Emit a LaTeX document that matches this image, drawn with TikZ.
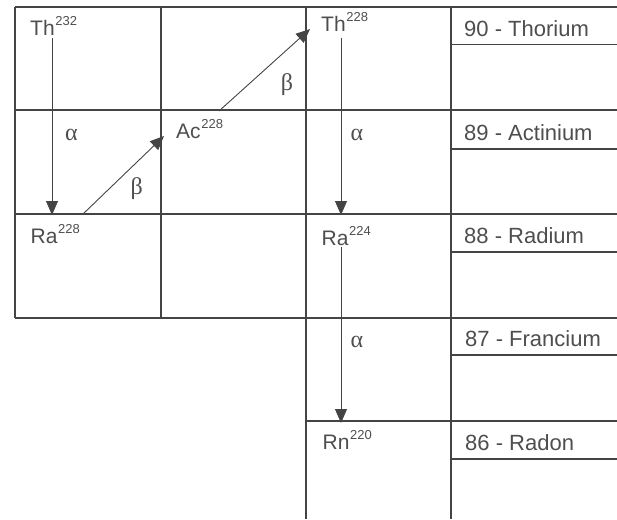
\documentclass[tikz,border=0pt]{standalone}
\usepackage{fontspec}
\setmainfont{Liberation Sans}
\newfontfamily\grkfont{Liberation Serif}
\usetikzlibrary{arrows.meta,calc}
\definecolor{lc}{RGB}{68,68,68}
\definecolor{tc}{RGB}{78,78,78}
\newcommand{\iso}[2]{#1\kern0.6pt\raisebox{9.5pt}{\fontsize{13}{14}\selectfont #2}}
\tikzset{
  grid/.style={draw=lc, line width=1.3pt},
  sub/.style={draw=lc, line width=1.1pt},
  isolbl/.style={anchor=base west, inner sep=0pt, text=tc, font=\fontsize{21}{24}\selectfont},
  ellbl/.style={anchor=base west, inner sep=0pt, text=tc, font=\fontsize{22}{24}\selectfont},
  grk/.style={anchor=base, inner sep=0pt, text=tc, font=\grkfont\fontsize{24}{26}\selectfont},
  arr/.style={draw=lc, line width=0.9pt, -{Triangle[length=14pt,width=12pt]}}
}
\begin{document}
\begin{tikzpicture}[x=1pt,y=-1pt]
\useasboundingbox (0,0) rectangle (617,519);
% grid
\foreach \yy in {7,110,214,318} \draw[grid] (15,\yy) -- (617,\yy);
\draw[grid] (306,421) -- (617,421);
\foreach \yy in {44.5,149,252,355,459} \draw[sub] (451,\yy) -- (617,\yy);
\foreach \xx in {15,161} \draw[grid] (\xx,7) -- (\xx,318);
\foreach \xx in {306,451} \draw[grid] (\xx,7) -- (\xx,519);
% isotopes
\node[isolbl] (th232) at (30,35) {\iso{Th}{232}};
\node[isolbl] (ra228) at (30.5,243) {\iso{Ra}{228}};
\node[isolbl] (ac228) at (176,138) {\iso{Ac}{228}};
\node[isolbl] (th228) at (321,31) {\iso{Th}{228}};
\node[isolbl] (ra224) at (321.5,245) {\iso{Ra}{224}};
\node[isolbl] (rn220) at (322.5,449) {\iso{Rn}{220}};
% elements
\node[ellbl] (el90) at (464,37) {90 - Thorium};
\node[ellbl] (el89) at (464,140) {89 - Actinium};
\node[ellbl] (el88) at (464,243) {88 - Radium};
\node[ellbl] (el87) at (465,346.5) {87 - Francium};
\node[ellbl] (el86) at (465,450) {86 - Radon};
% decay labels
\node[grk] (al1) at (71.5,140) {α};
\node[grk] (be1) at (136.7,194) {β};
\node[grk] (be2) at (287,90) {β};
\node[grk] (al2) at (357,140) {α};
\node[grk] (al3) at (357,347.7) {α};
% arrows
\draw[arr] ($(th232.base west)+(22,3)$) -- ($(ra228.base west)+(21.5,-28)$);
\draw[arr] ($(ra228.base west)+(52.5,-29)$) -- ($(ac228.base west)+(-12,-2)$);
\draw[arr] ($(ac228.base west)+(43,-27)$) -- ($(th228.base west)+(-11,-2)$);
\draw[arr] ($(th228.base west)+(20,7)$) -- ($(ra224.base west)+(19.5,-30)$);
\draw[arr] ($(ra224.base west)+(19.5,2)$) -- ($(rn220.base west)+(18.5,-26)$);
\end{tikzpicture}
\end{document}
